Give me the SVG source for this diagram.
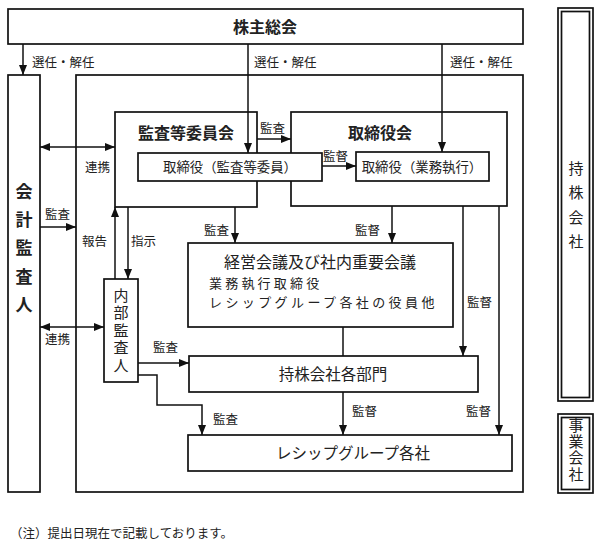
<svg xmlns="http://www.w3.org/2000/svg" width="600" height="546" viewBox="0 0 600 546">
<style>
text{font-family:"Liberation Serif","Noto Sans CJK JP",serif;fill:#222}
.b{fill:#fff;stroke:#111;stroke-width:1.7}
.n{fill:none;stroke:#111;stroke-width:1.7}
.c{fill:none;stroke:#111;stroke-width:1.5}
.t{font-size:16px;font-weight:bold;text-anchor:middle}
.m{font-size:13.4px;text-anchor:middle}
.l{font-size:12.5px}
.r{font-size:15.5px;text-anchor:middle}
.v{font-size:15px;text-anchor:middle}
</style>
<defs>
<marker id="a" markerUnits="userSpaceOnUse" markerWidth="10" markerHeight="10" viewBox="0 0 10 10" refX="10" refY="5" orient="auto-start-reverse"><path d="M0,1 L10,5 L0,9 Z" fill="#111"/></marker>
</defs>
<g id="outer"><rect class="n" x="76" y="75" width="447" height="417"/></g>
<g id="kabunushi"><rect class="b" x="8" y="9" width="515" height="35"/><text class="t" x="265" y="33">株主総会</text></g>
<g id="kaikei"><rect class="b" x="8" y="75" width="32" height="417"/>
<text class="t" x="24" style="font-size:17px"><tspan x="24" y="198">会</tspan><tspan x="24" y="226">計</tspan><tspan x="24" y="254">監</tspan><tspan x="24" y="283">査</tspan><tspan x="24" y="311">人</tspan></text></g>
<g id="kansa-iinkai"><rect class="b" x="115" y="112" width="142" height="95"/><text class="t" x="186" y="139">監査等委員会</text></g>
<g id="torishimariyakukai"><rect class="b" x="291" y="112" width="216" height="94"/><text class="t" x="380" y="139">取締役会</text></g>
<g id="torishimari-kansa"><rect class="b" x="138" y="153" width="184" height="28"/><text class="m" x="230" y="172">取締役（監査等委員）</text></g>
<g id="torishimari-gyomu"><rect class="b" x="356" y="152" width="133" height="29"/><text class="m" x="422" y="172">取締役（業務執行）</text></g>
<g id="keiei"><rect class="b" x="188" y="243" width="265" height="84"/><text class="r" x="320" y="268" style="font-size:16px">経営会議及び社内重要会議</text>
<text class="l" x="209" y="288" style="font-size:13px;letter-spacing:3.2px">業務執行取締役</text>
<text class="l" x="209" y="307" style="font-size:13px;letter-spacing:3.4px">レシップグループ各社の役員他</text></g>
<g id="naibu"><rect class="b" x="104" y="279" width="34" height="103"/>
<text class="v" x="121"><tspan x="121" y="301">内</tspan><tspan x="121" y="318">部</tspan><tspan x="121" y="336">監</tspan><tspan x="121" y="353">査</tspan><tspan x="121" y="371">人</tspan></text></g>
<g id="bumon"><rect class="b" x="189" y="356" width="289" height="36"/><text class="r" x="333" y="380">持株会社各部門</text></g>
<g id="group"><rect class="b" x="188" y="435" width="324" height="36"/><text class="r" x="353" y="459">レシップグループ各社</text></g>
<g id="mochikabu"><rect class="n" x="558" y="8" width="35" height="393" stroke-width="2"/><rect class="n" x="561.5" y="11.5" width="28" height="386" stroke-width="1"/>
<text class="v" x="576"><tspan x="576" y="174">持</tspan><tspan x="576" y="198">株</tspan><tspan x="576" y="223">会</tspan><tspan x="576" y="247">社</tspan></text></g>
<g id="jigyo"><rect class="n" x="558" y="414" width="35" height="79" stroke-width="2"/><rect class="n" x="561.5" y="417.5" width="28" height="72" stroke-width="1"/>
<text class="v" x="576"><tspan x="576" y="431">事</tspan><tspan x="576" y="447">業</tspan><tspan x="576" y="463">会</tspan><tspan x="576" y="480">社</tspan></text></g>
<g id="connectors">
<line class="c" x1="23" y1="44" x2="23" y2="75" marker-end="url(#a)"/>
<line class="c" x1="248" y1="44" x2="248" y2="153" marker-end="url(#a)"/>
<line class="c" x1="442" y1="44" x2="442" y2="152" marker-end="url(#a)"/>
<line class="c" x1="257" y1="139" x2="291" y2="139" marker-end="url(#a)"/>
<line class="c" x1="322" y1="166" x2="356" y2="166" marker-end="url(#a)"/>
<line class="c" x1="40" y1="147" x2="115" y2="147" marker-start="url(#a)" marker-end="url(#a)"/>
<line class="c" x1="40" y1="227" x2="76" y2="227" marker-end="url(#a)"/>
<line class="c" x1="40" y1="327" x2="104" y2="327" marker-start="url(#a)" marker-end="url(#a)"/>
<line class="c" x1="115" y1="279" x2="115" y2="207" marker-end="url(#a)"/>
<line class="c" x1="128" y1="207" x2="128" y2="279" marker-end="url(#a)"/>
<line class="c" x1="235" y1="207" x2="235" y2="243" marker-end="url(#a)"/>
<line class="c" x1="392" y1="206" x2="392" y2="243" marker-end="url(#a)"/>
<line class="c" x1="463" y1="206" x2="463" y2="356" marker-end="url(#a)"/>
<line class="c" x1="499" y1="206" x2="499" y2="435" marker-end="url(#a)"/>
<line class="c" x1="343" y1="327" x2="343" y2="356"/>
<line class="c" x1="343" y1="392" x2="343" y2="435" marker-end="url(#a)"/>
<line class="c" x1="138" y1="363" x2="189" y2="363" marker-end="url(#a)"/>
<path class="c" d="M138 375 H157 V405 H202 V435" marker-end="url(#a)"/>
</g>
<g id="labels">
<text class="l" x="32" y="67">選任・解任</text>
<text class="l" x="254" y="67">選任・解任</text>
<text class="l" x="450" y="67">選任・解任</text>
<text class="l" x="260" y="133">監査</text>
<text class="l" x="323" y="161">監督</text>
<text class="l" x="85" y="172">連携</text>
<text class="l" x="45" y="219">監査</text>
<text class="l" x="82" y="246">報告</text>
<text class="l" x="131" y="246">指示</text>
<text class="l" x="204" y="235">監査</text>
<text class="l" x="355" y="235">監督</text>
<text class="l" x="467" y="307">監督</text>
<text class="l" x="45" y="344">連携</text>
<text class="l" x="153" y="352">監査</text>
<text class="l" x="352" y="416">監督</text>
<text class="l" x="466" y="416">監督</text>
<text class="l" x="213" y="424">監査</text>
<text class="l" x="10" y="538">（注）提出日現在で記載しております。</text>
</g>
</svg>
